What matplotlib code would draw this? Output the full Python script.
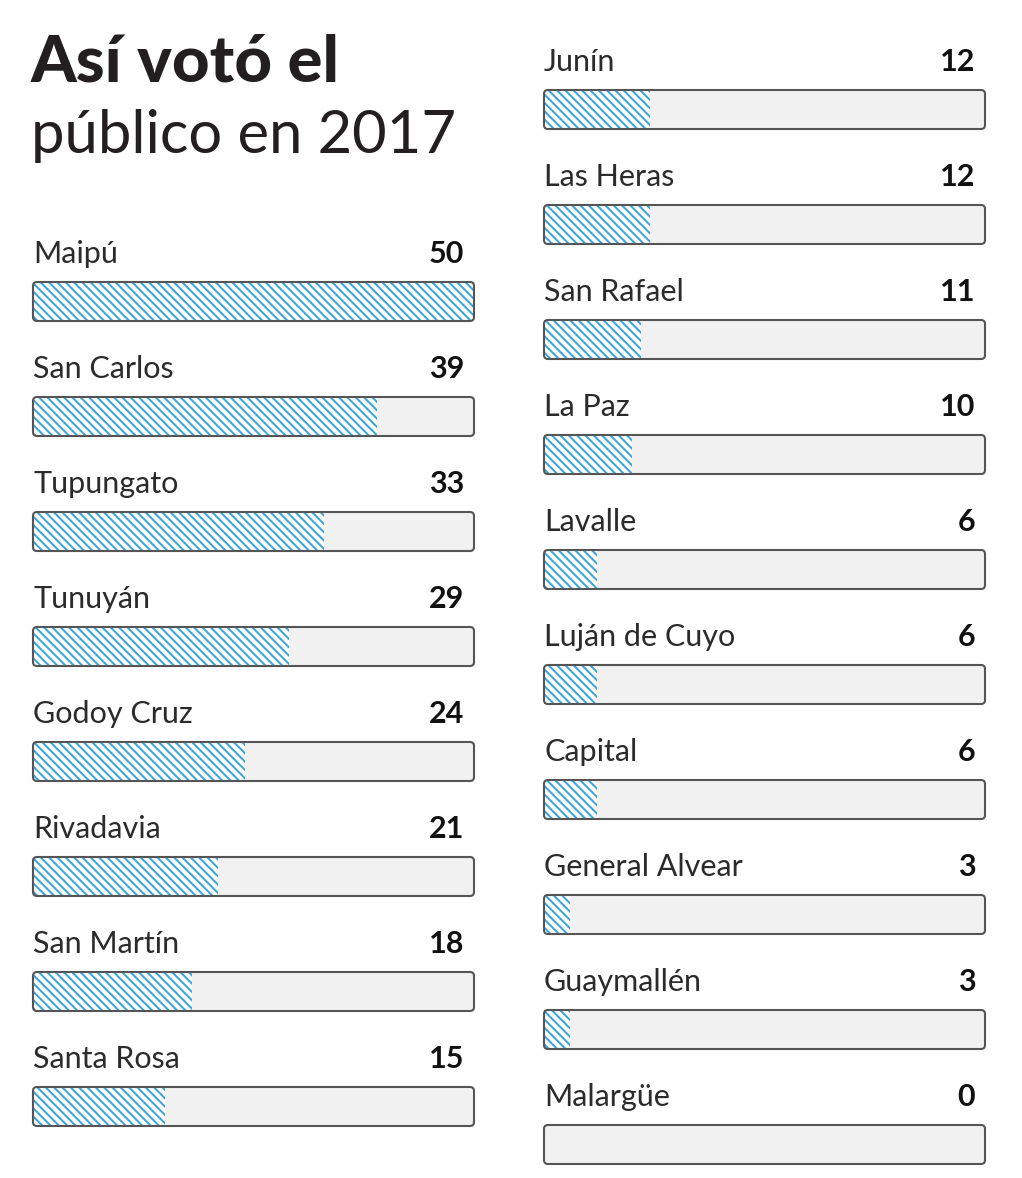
import matplotlib
matplotlib.use("Agg")
import matplotlib.pyplot as plt
from matplotlib.patches import FancyBboxPatch

# votes per department (left column, right column)
left_names = ["Maipú", "San Carlos", "Tupungato", "Tunuyán", "Godoy Cruz",
              "Rivadavia", "San Martín", "Santa Rosa"]
left_votes = [50, 39, 33, 29, 24, 21, 18, 15]
right_names = ["Junín", "Las Heras", "San Rafael", "La Paz", "Lavalle",
               "Luján de Cuyo", "Capital", "General Alvear", "Guaymallén", "Malargüe"]
right_votes = [12, 12, 11, 10, 6, 6, 6, 3, 3, 0]
max_votes = 50

W, H = 1022, 1178
BLUE = "#36a4dc"
TRACK = "#f1f1f1"
EDGE = "#555555"
TXT = "#2b2b2b"
ROW = 115.0          # px between rows
BAR_H = 39.0 / ROW
COL_W = 441.0

plt.rcParams["font.family"] = ["Lato", "DejaVu Sans"]
plt.rcParams["hatch.linewidth"] = 1.4

fig = plt.figure(figsize=(W / 100, H / 100), dpi=100)
fig.patch.set_facecolor("white")


def column(x0, first_center, names, votes):
    ax = fig.add_axes([x0 / W, 0, COL_W / W, 1])
    ax.set_xlim(0, max_votes)
    ax.set_ylim((H - first_center) / ROW, -first_center / ROW)
    ax.axis("off")
    ys = list(range(len(names)))
    track = ax.barh(ys, [max_votes] * len(ys), height=BAR_H, left=0,
                    color=TRACK, linewidth=0)
    ax.barh(ys, votes, height=BAR_H, left=0, color="white",
            edgecolor=BLUE, hatch="\\\\\\\\", linewidth=0)
    # rounded outline around each track
    rx = 4.0 / (COL_W / max_votes)
    ry = 4.0 / ROW
    for b in track:
        ax.add_patch(FancyBboxPatch((b.get_x(), b.get_y()), b.get_width(), b.get_height(),
                                    boxstyle=f"round,pad=0,rounding_size={rx}",
                                    mutation_aspect=ry / rx, fill=False,
                                    edgecolor=EDGE, linewidth=1.5, clip_on=False))
    for y, name, v in zip(ys, names, votes):
        ax.text(0, y - 0.335, name, fontsize=22, color=TXT,
                ha="left", va="baseline")
        ax.annotate(str(v), (max_votes, y - 0.335), xytext=(-7, 0),
                    textcoords="offset points", fontsize=22,
                    fontweight="bold", color="#111111",
                    ha="right", va="baseline")
    return ax


column(33, 301.5, left_names, left_votes)
column(544, 109.5, right_names, right_votes)

fig.text(31 / W, 1 - 82 / H, "Así votó el", fontsize=47, fontweight="black",
         color="#231f20", ha="left", va="baseline")
fig.text(31 / W, 1 - 153 / H, "público en 2017", fontsize=43,
         fontweight="normal", color="#231f20", ha="left", va="baseline")

fig.savefig("out.png", dpi=100, facecolor="white")
